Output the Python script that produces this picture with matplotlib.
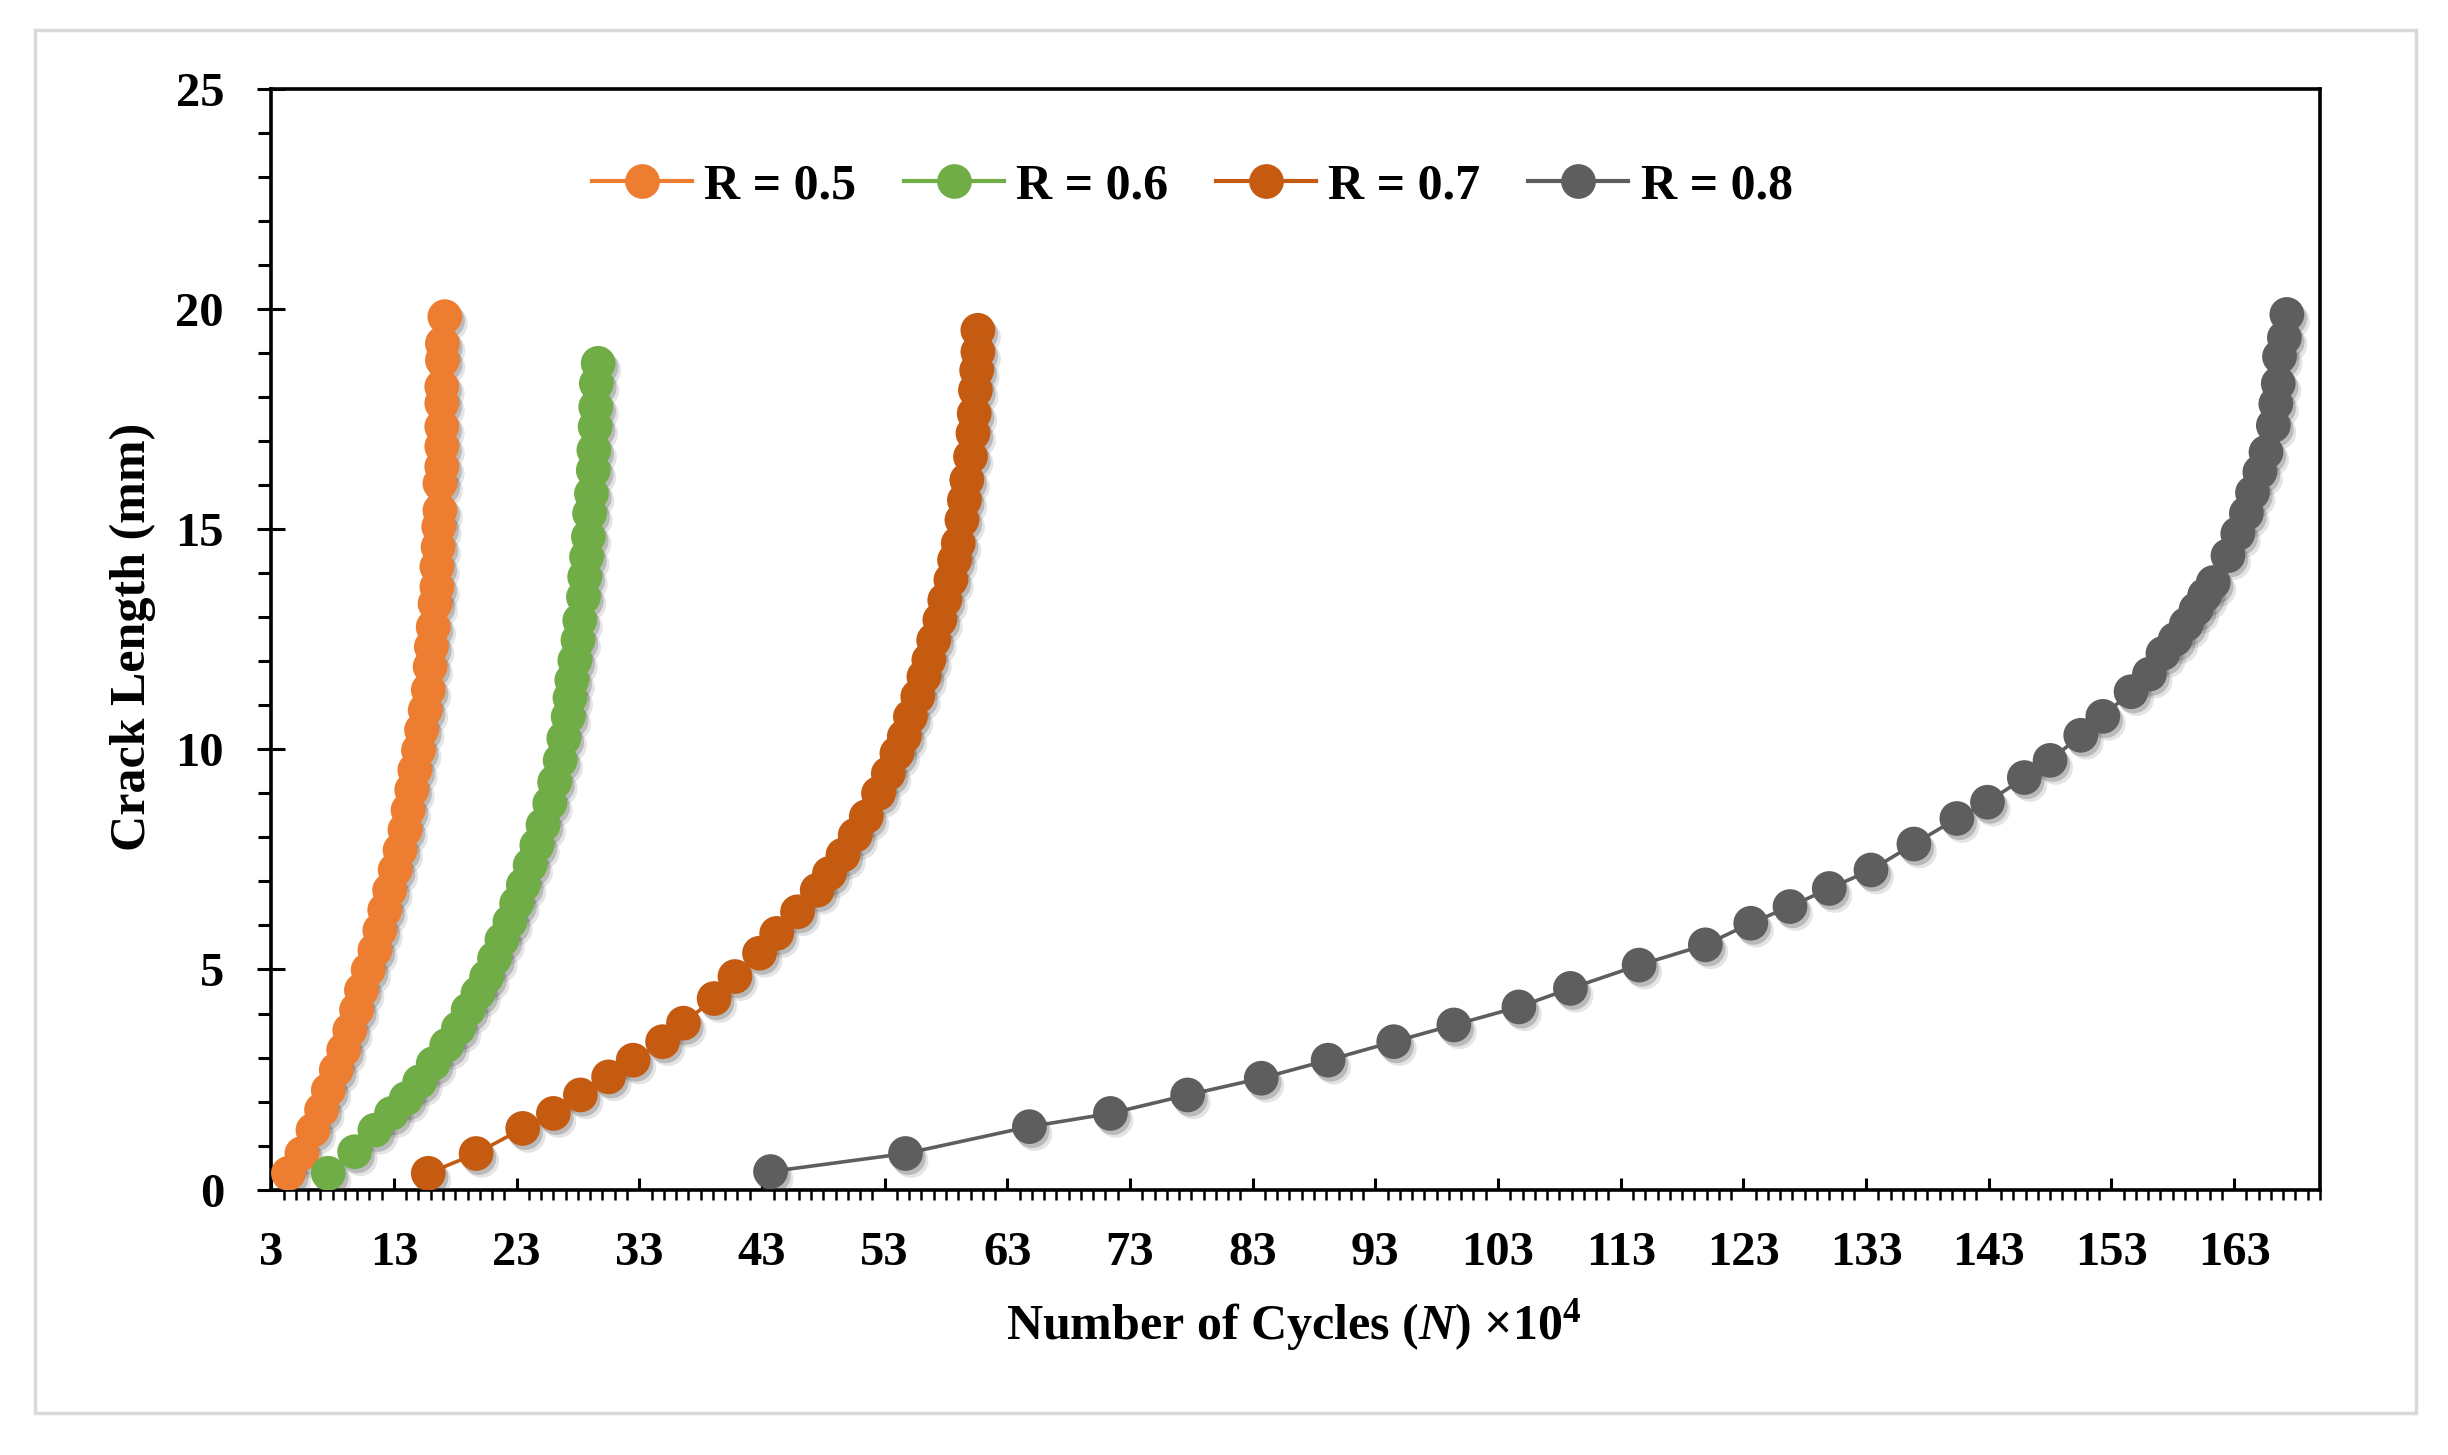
import matplotlib
matplotlib.use("Agg")
import matplotlib.pyplot as plt
import matplotlib.patheffects as pe
from matplotlib.lines import Line2D
from matplotlib.patches import Rectangle
from matplotlib.ticker import MultipleLocator

# crack length vs cycles (x10^4) for each stress ratio
n_05 = [4.4, 5.5, 6.4, 7.1, 7.65, 8.3, 8.9, 9.4, 9.95, 10.35, 10.9, 11.45, 11.85, 12.25,
        12.65, 13.1, 13.5, 13.9, 14.15, 14.45, 14.7, 15.0, 15.25, 15.55, 15.8, 15.95,
        16.05, 16.2, 16.35, 16.5, 16.5, 16.6, 16.65, 16.75, 16.75, 16.9, 16.9, 16.9,
        16.9, 16.9, 16.95, 16.95, 17.15]
a_05 = [0.37, 0.82, 1.35, 1.81, 2.26, 2.72, 3.17, 3.62, 4.08, 4.53, 4.99, 5.44, 5.89, 6.35,
        6.80, 7.26, 7.71, 8.17, 8.62, 9.08, 9.53, 9.98, 10.44, 10.89, 11.35, 11.88,
        12.33, 12.78, 13.31, 13.69, 14.15, 14.60, 15.06, 15.43, 16.04, 16.42, 16.88, 17.33,
        17.86, 18.24, 18.84, 19.22, 19.83]

n_06 = [7.65, 9.8, 11.45, 12.8, 14.0, 15.1, 16.2, 17.3, 18.25, 19.05, 19.85, 20.55, 21.2,
        21.8, 22.45, 23.0, 23.55, 24.1, 24.65, 25.15, 25.7, 26.1, 26.55, 26.85, 27.2,
        27.35, 27.5, 27.75, 28.0, 28.15, 28.45, 28.55, 28.7, 28.85, 28.95, 29.1, 29.25,
        29.3, 29.4, 29.45, 29.5, 29.65]
a_06 = [0.37, 0.86, 1.35, 1.73, 2.07, 2.45, 2.86, 3.28, 3.66, 4.08, 4.46, 4.83, 5.25,
        5.67, 6.08, 6.50, 6.92, 7.37, 7.82, 8.28, 8.77, 9.26, 9.75, 10.25, 10.74,
        11.17, 11.57, 12.02, 12.48, 12.93, 13.46, 13.92, 14.37, 14.83, 15.36, 15.81, 16.34,
        16.80, 17.33, 17.78, 18.31, 18.77]

n_07 = [15.8, 19.7, 23.5, 26.0, 28.2, 30.5, 32.5, 34.9, 36.6, 39.1, 40.8, 42.8, 44.2,
        45.9, 47.5, 48.5, 49.6, 50.6, 51.5, 52.5, 53.3, 54.0, 54.6, 55.1, 55.7, 56.2,
        56.6, 57.0, 57.5, 57.9, 58.4, 58.7, 59.0, 59.3, 59.5, 59.7, 60.0, 60.2, 60.3,
        60.4, 60.5, 60.6, 60.6]
a_07 = [0.37, 0.82, 1.39, 1.73, 2.15, 2.56, 2.94, 3.36, 3.78, 4.34, 4.84, 5.37, 5.82,
        6.31, 6.80, 7.18, 7.60, 8.05, 8.47, 9.0, 9.45, 9.91, 10.29, 10.74, 11.2, 11.65,
        12.03, 12.48, 12.94, 13.39, 13.85, 14.3, 14.68, 15.21, 15.66, 16.12, 16.65, 17.18,
        17.63, 18.16, 18.61, 19.03, 19.52]

n_08 = [43.7, 54.7, 64.8, 71.4, 77.7, 83.7, 89.15, 94.5, 99.4, 104.7, 108.9, 114.5, 119.9,
        123.6, 126.8, 130.0, 133.4, 136.9, 140.4, 142.9, 145.9, 148.0, 150.5, 152.3, 154.6,
        156.1, 157.2, 158.2, 159.1, 159.9, 160.6, 161.3, 162.5, 163.3, 164.0, 164.5, 165.1,
        165.6, 166.2, 166.4, 166.6, 166.7, 167.1, 167.3]
a_08 = [0.41, 0.82, 1.43, 1.73, 2.15, 2.53, 2.94, 3.36, 3.74, 4.15, 4.57, 5.10, 5.56,
        6.05, 6.43, 6.84, 7.26, 7.85, 8.43, 8.80, 9.36, 9.75, 10.32, 10.75, 11.31,
        11.71, 12.18, 12.5, 12.84, 13.18, 13.5, 13.79, 14.40, 14.9, 15.36, 15.83, 16.3,
        16.75, 17.36, 17.85, 18.31, 18.92, 19.35, 19.88]

labels = ["R = 0.5", "R = 0.6", "R = 0.7", "R = 0.8"]
colors = ["#ED7D31", "#70AD47", "#C55A11", "#5E5E5E"]

plt.rcParams["font.family"] = ["Liberation Serif", "DejaVu Serif"]
plt.rcParams["font.weight"] = "bold"
plt.rcParams["mathtext.fontset"] = "custom"
plt.rcParams["mathtext.rm"] = "Liberation Serif:bold"
plt.rcParams["mathtext.it"] = "Liberation Serif:italic:bold"

fig = plt.figure(figsize=(24.48, 14.55), dpi=100)
ax = fig.add_axes([0.1108, 0.1824, 0.8369, 0.7564])

# light grey frame round the whole chart
fig.add_artist(Rectangle((0.0143, 0.0289), 0.9726, 0.9505, transform=fig.transFigure,
                         fill=False, edgecolor="#D9D9D9", linewidth=2.5))

# soft drop shadow under the markers
shadow = [pe.SimplePatchShadow(offset=(4, -5), shadow_rgbFace="0.3", alpha=0.15),
          pe.SimplePatchShadow(offset=(2, -3), shadow_rgbFace="0.25", alpha=0.25),
          pe.Normal()]

handles = []
for xs, ys, c, lab in zip([n_05, n_06, n_07, n_08], [a_05, a_06, a_07, a_08], colors, labels):
    ax.plot(xs, ys, color=c, lw=2.6, zorder=2)
    ax.plot(xs, ys, linestyle="none", marker="o", ms=25, color=c, mec=c, mew=0,
            zorder=3, path_effects=shadow)
    handles.append(Line2D([], [], color=c, lw=3, marker="o", ms=25, mew=0, label=lab))

ax.set_xlim(3, 170)
ax.set_ylim(0, 25)
ax.xaxis.set_major_locator(MultipleLocator(10, offset=3))
ax.xaxis.set_minor_locator(MultipleLocator(1))
ax.yaxis.set_major_locator(MultipleLocator(5))
ax.yaxis.set_minor_locator(MultipleLocator(1))

ax.tick_params(axis="x", which="major", direction="in", length=8.6, width=2.2, pad=30, labelsize=35)
ax.tick_params(axis="x", which="minor", direction="out", length=7.2, width=1.8)
ax.tick_params(axis="y", which="major", direction="inout", length=20, width=2.2, pad=24, labelsize=35)
ax.tick_params(axis="y", which="minor", direction="out", length=9.4, width=2.2)
for s in ax.spines.values():
    s.set_linewidth(2.6)
    s.set_color("black")

fig.text(0.5286, 0.0893, r"Number of Cycles ($\mathit{N}$) ×$\mathregular{10^{4}}$",
         ha="center", va="center", fontsize=36, fontweight="bold")
fig.text(0.0543, 0.5622, "Crack Length (mm)", rotation=90, ha="center", va="center",
         fontsize=36, fontweight="bold")

fig.legend(handles=handles, loc="center", bbox_to_anchor=(0.487, 0.8715), ncol=4,
           frameon=False, fontsize=36, handlelength=2.0, handletextpad=0.25,
           columnspacing=0.95, borderpad=0)

fig.savefig("out.png", dpi=100)
